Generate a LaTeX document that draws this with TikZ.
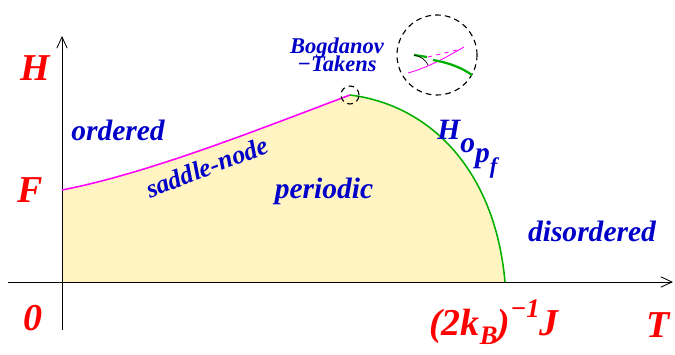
\documentclass[tikz,border=0pt]{standalone}
\usepackage{fontspec}
\IfFontExistsTF{LiberationSerif-BoldItalic.ttf}{%
  \setmainfont{LiberationSerif}[Extension=.ttf,UprightFont=*-Regular,BoldFont=*-Bold,
    ItalicFont=*-Italic,BoldItalicFont=*-BoldItalic]}{%
  \setmainfont{Liberation Serif}[BoldItalicFont={Liberation Serif Bold Italic}]}
\usetikzlibrary{arrows.meta,positioning}
\definecolor{labelred}{HTML}{FF0000}
\definecolor{labelblue}{HTML}{0000C8}
\definecolor{snmagenta}{HTML}{FF00FF}
\definecolor{hopfgreen}{HTML}{00B000}
\definecolor{softyellow}{HTML}{FFF4C2}
\tikzset{
  axis/.style={-{Straight Barb[length=2.8mm,width=2.6mm]},semithick},
  redlabel/.style={text=labelred,font=\fontsize{27}{30}\selectfont\bfseries\itshape,inner sep=0pt},
  bluelabel/.style={text=labelblue,font=\fontsize{21}{24}\selectfont\bfseries\itshape,inner sep=0pt},
  smallblue/.style={text=labelblue,font=\fontsize{16}{15}\selectfont\bfseries\itshape,inner sep=0pt,align=center},
  saddle/.style={snmagenta,line width=1.1pt},
  hopf/.style={hopfgreen,line width=1.1pt},
  lens/.style={draw,circle,dashed,dash pattern=on 4pt off 3pt,thick,inner sep=0pt}
}
\begin{document}
\begin{tikzpicture}[x=0.025cm,y=-0.025cm]
  \useasboundingbox (0,0) rectangle (675,354);
  % key points of the diagram
  \coordinate (orig) at (62,282);
  \coordinate (fpt) at (62,190);
  \coordinate (bt) at (350,95);
  \coordinate (hz) at (505,282);
  \coordinate (xs) at (8,282);
  \coordinate (xe) at (673,282);
  \coordinate (ys) at (62,330);
  \coordinate (ye) at (62,36);
  % periodic region
  \fill[softyellow] (orig) -- (fpt) .. controls (150,173) and (262,128) .. (bt)
    .. controls (430,105) and (495,170) .. (hz) -- cycle;
  \draw[axis] (xs) -- (xe);
  \draw[axis] (ys) -- (ye);
  \draw[saddle] (fpt) .. controls (150,173) and (262,128) .. (bt);
  \draw[hopf] (bt) .. controls (430,105) and (495,170) .. (hz);
  % magnifier
  \node[lens,minimum size=16\pgflinewidth] (bts) at (bt) {};
  \node[lens,minimum size=2cm] (lensbig) at (437,55) {};
  \coordinate (m1) at (408,73);
  \coordinate (m2) at (464,47);
  \coordinate (d1) at (428,57);
  \coordinate (d2) at (457,50);
  \coordinate (g1) at (414,55);
  \coordinate (g2) at (427,57);
  \coordinate (g3) at (433,60);
  \coordinate (g4) at (472,75);
  \draw[snmagenta,line width=0.6pt] (m1) .. controls (430,67) and (450,55) .. (m2);
  \draw[snmagenta,line width=0.6pt,dashed] (d1) -- (d2);
  \draw[hopfgreen,line width=1.6pt] (g1) -- (g2);
  \draw[hopfgreen,line width=1.6pt] (g3) .. controls (450,63) and (462,68) .. (g4);
  \draw[line width=0.5pt] (g1) .. controls (420,56) and (426,60) .. (428,65);
  % axis labels
  \node[redlabel] (hlab) at (35,68) {H};
  \node[redlabel] (flab) at (30,190) {F};
  \node[redlabel] (zlab) at (33,318) {0};
  \node[redlabel] (tlab) at (658,325) {T};
  \node[redlabel] (jlab) at (494,322) {(2k\raisebox{-0.5ex}{\fontsize{19}{19}\selectfont B})\raisebox{1.05ex}{\fontsize{19}{19}\selectfont −1}J};
  % region and curve labels
  \node[bluelabel] (ord) at (118,130) {ordered};
  \node[bluelabel] (per) at (324,191) {periodic};
  \node[bluelabel] (dis) at (592,231) {disordered};
  \node[bluelabel,font=\fontsize{18.5}{20}\selectfont\bfseries\itshape,rotate=21] (snlab) at (207,167) {saddle-node};
  \node[bluelabel,anchor=base west] (hlabel) at (437,140)
    {H\raisebox{-9pt}{o}\raisebox{-16pt}{p}\raisebox{-24pt}{\fontsize{16}{16}\selectfont f}};
  \node[smallblue] (btlab) at (337,55) {Bogdanov\\[-2pt]−Takens};
\end{tikzpicture}
\end{document}
